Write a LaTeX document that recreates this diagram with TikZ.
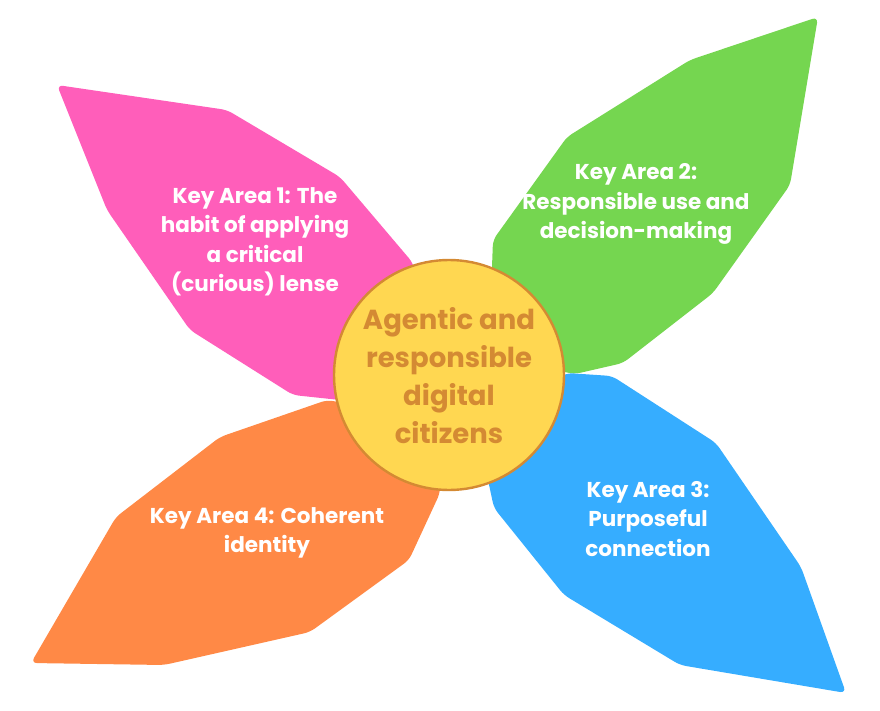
\documentclass[tikz,border=0pt]{standalone}
\usepackage{fontspec}
\setmainfont{Poppins}
\definecolor{kpink}{HTML}{FF5EBA}
\definecolor{kgreen}{HTML}{75D650}
\definecolor{kblue}{HTML}{36ADFF}
\definecolor{korange}{HTML}{FF8946}
\definecolor{kyellow}{HTML}{FFD751}
\definecolor{kbrown}{HTML}{D48A33}
\usetikzlibrary{positioning}

\begin{document}
\begin{tikzpicture}[x=1pt, y=-1pt,
  petal/.style={rounded corners=6pt},
  ptext/.style={text=white, align=center, font=\fontsize{21.5}{29.5}\selectfont\bfseries},
  hub/.style={circle, draw=kbrown, line width=2.4pt, fill=kyellow,
              minimum size=230pt, inner sep=0pt},
  htext/.style={text=kbrown, align=center, font=\fontsize{27.5}{38}\selectfont\bfseries},
]
\useasboundingbox (0,0) rectangle (880,711);

% petals
\fill[petal, kpink] (57,85) -- (227,110) -- (340,177) -- (413,263) -- (430,350)
  -- (340,400) -- (293,395) -- (190,330) -- (107,210) -- cycle;
\fill[petal, kgreen] (818,17) -- (790,185) -- (713,293) -- (623,363) -- (575,374)
  -- (500,360) -- (492,267) -- (493,240) -- (567,137) -- (690,60) -- cycle;
\fill[petal, kblue] (567,373) -- (612,376) -- (716,443) -- (801,567) -- (846,693)
  -- (680,665) -- (564,595) -- (494,508) -- (488,480) -- (480,420) -- cycle;
\fill[petal, korange] (327,400) -- (440,420) -- (440,493) -- (409,560) -- (310,632)
  -- (164,665) -- (31,663) -- (116,517) -- (220,437) -- cycle;

% hub
\node[hub] (hub) at (449,375) {};
\node[htext] (hubtxt) at (449,376) {Agentic and\\responsible\\digital\\citizens};

% key areas
\node[ptext] (ka1) at (255,242) {Key Area 1: The\\habit of applying\\a critical\\(curious) lense};
\node[ptext] (ka2) at (636,204) {Key Area 2:\\Responsible use and\\decision-making};
\node[ptext] (ka3) at (648,519) {Key Area 3:\\Purposeful\\connection};
\node[ptext] (ka4) at (267,533) {Key Area 4: Coherent\\identity};
\end{tikzpicture}
\end{document}
